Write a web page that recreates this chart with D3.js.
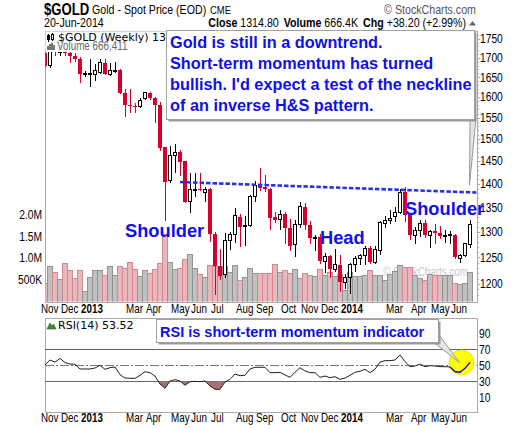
<!DOCTYPE html>
<html>
<head>
<meta charset="utf-8">
<script src="https://cdn.jsdelivr.net/npm/d3@7"></script>
<style>
body { margin: 0; background: #fff; }
svg { display: block; }
</style>
</head>
<body>
<div id="chart"></div>
<script>
// weekly bars, week ending Friday
const firstWeek = "2012-11-02"
const lastWeek = "2014-06-20"

const opens = [1713,1679,1731,1714,1751,1712,1704,1697,1657,1659,1658,1662,1687,1658,1667,1668,1611,1580,1578,1578,
  1596,1611,1597,1580,1481,1407,1463,1470,1450,1362,1387,1390,1382,1389,1296,1233,1217,1284,1295,1330,
  1311,1313,1374,1398,1393,1388,1330,1325,1337,1308,1275,1316,1352,1314,1288,1290,1243,1252,1228,1236,
  1203,1213,1237,1248,1254,1268,1241,1264,1318,1324,1331,1340,1382,1335,1294,1303,1318,1293,1302,1299,
  1292,1294,1294,1249,1253,1276]
const highs = [1722,1737,1740,1754,1755,1722,1712,1702,1666,1697,1684,1696,1697,1686,1688,1670,1620,1620,1585,1597,
  1614,1614,1600,1587,1481,1485,1488,1474,1450,1424,1423,1423,1394,1392,1300,1267,1298,1300,1348,1336,
  1333,1376,1406,1434,1420,1392,1340,1345,1340,1327,1324,1361,1359,1322,1294,1296,1258,1255,1267,1254,
  1218,1240,1253,1256,1272,1273,1272,1323,1332,1345,1352,1388,1394,1339,1310,1325,1325,1305,1316,1312,
  1305,1302,1297,1257,1279,1325]
const lows = [1673,1673,1705,1706,1705,1686,1690,1636,1650,1626,1641,1658,1655,1653,1660,1608,1553,1562,1561,1574,
  1593,1592,1538,1472,1322,1402,1423,1418,1359,1338,1373,1384,1362,1280,1180,1207,1211,1265,1278,1270,
  1272,1310,1362,1385,1382,1304,1318,1305,1277,1262,1251,1308,1305,1277,1262,1237,1221,1211,1222,1185,
  1190,1182,1223,1236,1235,1238,1237,1254,1308,1316,1321,1336,1321,1285,1277,1291,1288,1268,1277,1286,
  1278,1276,1247,1240,1251,1268]
const closes = [1679,1731,1714,1751,1712,1704,1697,1658,1659,1659,1666,1687,1658,1667,1668,1611,1580,1578,1577,1593,
  1611,1597,1580,1479,1405,1463,1469,1448,1361,1388,1389,1386,1389,1296,1233,1215,1284,1295,1333,1311,
  1313,1374,1397,1391,1388,1328,1325,1336,1308,1273,1316,1352,1315,1288,1290,1243,1252,1228,1236,1203,
  1213,1237,1248,1254,1268,1241,1265,1319,1324,1327,1340,1382,1335,1294,1303,1318,1294,1301,1299,1292,
  1294,1294.5,1250,1253,1276.6,1314.8]
// volume in thousands
const volumes = [430,820,680,520,880,710,540,710,250,560,710,710,610,820,610,820,770,910,750,580,
  710,650,750,870,1530,910,730,770,960,1090,770,620,560,840,800,780,800,680,840,480,
  560,770,660,650,660,640,860,680,710,650,750,540,650,610,580,730,600,670,580,630,
  260,680,580,580,600,710,600,610,500,620,690,840,790,790,600,540,480,620,610,610,
  610,610,430,390,430,666.411]
const rsi = [50.4,56.6,54,58.7,53.3,51.6,51.2,45.4,45.4,45.4,46.6,50,45,47,47.9,38.3,34.1,33.7,33.7,37.5,
  42,40.8,36.6,26.6,21.2,30.4,32,30.4,25,29.5,30,29.5,30.4,24.1,20,20,29.1,32.5,39.1,37,
  37.5,45.4,47.5,47.5,47.5,40.8,40.8,41.2,37.9,35,41.2,47,42.9,40.8,40.8,35,36.6,34.5,35.8,32.5,
  34.1,37.5,41.2,42.5,45,40.8,45,54.1,55.8,55.8,56.6,62.9,54.5,48.3,49.1,51.6,48.3,49.5,49.1,48.3,
  48.3,47.9,42,41.2,46.2,53.52]

const monthTicks = [["Nov","2012-11-02"],["Dec","2012-11-30"],["2013","2012-12-28"],["Mar","2013-03-01"],
  ["Apr","2013-03-29"],["May","2013-05-03"],["Jun","2013-05-31"],["Jul","2013-06-28"],["Aug","2013-08-02"],
  ["Sep","2013-08-30"],["Oct","2013-10-04"],["Nov","2013-11-01"],["Dec","2013-11-29"],["2014","2013-12-27"],
  ["Mar","2014-02-28"],["Apr","2014-04-04"],["May","2014-05-02"],["Jun","2014-05-30"]]
const priceTicks = [1200,1250,1300,1350,1400,1450,1500,1550,1600,1650,1700,1750]
const volumeTicks = [500,1000,1500,2000]
const volumeTickLabels = ["500K","1.0M","1.5M","2.0M"]
const rsiTicks = [10,30,50,70,90]
const rsiBands = [30,70]
const neckline = [["2013-05-10",1404],["2014-06-20",1382]]
const rsiHighlightFrom = "2014-05-23"

const noteLines = ["Gold is still in a downtrend.","Short-term momentum has turned",
  "bullish. I'd expect a test of the neckline","of an inverse H&S pattern."]
const rsiNote = "RSI is short-term momentum indicator"
const patternLabels = [["Shoulder","2013-02-22",1291],["Head","2013-11-22",1276],["Shoulder","2014-03-21",1335]]

const sans = "'Liberation Sans',Arial,sans-serif"
const squeeze = 0.82   // the chart's header and axis font is a narrow sans
const red = "#d3002d", blue = "#1010e8"

const parse = d3.utcParse("%Y-%m-%d")
const weeks = d3.utcFriday.range(parse(firstWeek), d3.utcDay.offset(parse(lastWeek), 1))
const bars = weeks.map((d, i) => ({
  date: d, open: opens[i], high: highs[i], low: lows[i], close: closes[i],
  volume: volumes[i], rsi: rsi[i], prev: i ? closes[i - 1] : opens[i]
}))

const main = { left: 45, right: 477, top: 31, bottom: 302 }
const lower = { top: 318, bottom: 412 }

const x = d3.scaleUtc().domain([weeks[0], weeks[weeks.length - 1]]).range([45, 470])
const y = d3.scaleLog().domain([1200, 1750]).range([284, 39])
const yv = d3.scaleLinear().domain([0, 2000]).range([302, 214.3])
const yr = d3.scaleLinear().domain([0, 100]).range([405.3, 325.3])

const svg = d3.select("#chart").append("svg").attr("width", 520).attr("height", 429)
  .style("font-family", sans)

const narrowAt = (px, py) => `translate(${px},${py}) scale(${squeeze},1)`
function ntext(px, py, str, size) {
  return svg.append("text").attr("transform", narrowAt(px, py)).attr("font-size", size).text(str)
}

// ---- header
ntext(44, 15, "$GOLD", 16).attr("font-weight", "bold")
ntext(92, 14, "Gold - Spot Price (EOD)", 13)
ntext(210, 14, "CME", 11.5)
ntext(476, 14, "\u00a9 StockCharts.com", 13).attr("text-anchor", "end").attr("fill", "#555")
ntext(44, 26.5, "20-Jun-2014", 13)

const last = bars[bars.length - 1]
const chg = last.close - last.prev
const quote = ntext(466, 26.5, null, 13).attr("text-anchor", "end")
quote.append("tspan").attr("font-weight", "bold").text("Close ")
quote.append("tspan").text(d3.format(".2f")(last.close))
quote.append("tspan").attr("dx", 6).attr("font-weight", "bold").text("Volume ")
quote.append("tspan").text(d3.format(".1f")(last.volume) + "K")
quote.append("tspan").attr("dx", 6).attr("font-weight", "bold").text("Chg ")
quote.append("tspan").text("+" + d3.format(".2f")(chg) + " (+" + d3.format(".2f")(chg / last.prev * 100) + "%)")
svg.append("path").attr("d", "M469,25.5L472.5,21L476,25.5Z").attr("fill", "#666")

// ---- main panel
svg.append("rect").attr("x", main.left).attr("y", main.top)
  .attr("width", main.right - main.left).attr("height", main.bottom - main.top)
  .attr("fill", "#fff").attr("stroke", "#aaa").attr("shape-rendering", "crispEdges")

svg.append("clipPath").attr("id", "clipMain").append("rect")
  .attr("x", main.left + 0.5).attr("y", main.top + 0.5)
  .attr("width", main.right - main.left - 1).attr("height", main.bottom - main.top - 1)

const plot = svg.append("g").attr("clip-path", "url(#clipMain)")

plot.append("text").attr("transform", narrowAt(468, 276)).attr("font-size", 12).attr("text-anchor", "end")
  .attr("fill", "#c8c8c8").text("\u00a9 StockCharts.com")

plot.append("g").selectAll("rect").data(bars).join("rect")
  .attr("x", d => Math.round(x(d.date)) - 2.5)
  .attr("width", 5)
  .attr("y", d => yv(d.volume))
  .attr("height", d => yv(0) - yv(d.volume))
  .attr("fill", d => d.close < d.prev ? "#e8b7bc" : "#c0c0c0")
  .attr("stroke", d => d.close < d.prev ? "#d5868f" : "#939393")
  .attr("stroke-width", 1)
  .attr("shape-rendering", "crispEdges")

const candle = plot.append("g").selectAll("g").data(bars).join("g")
  .attr("shape-rendering", "crispEdges")
candle.append("line")
  .attr("x1", d => Math.round(x(d.date)) + 0.5).attr("x2", d => Math.round(x(d.date)) + 0.5)
  .attr("y1", d => y(d.high)).attr("y2", d => y(d.low))
  .attr("stroke", d => d.close < d.prev ? red : "#000")
candle.append("rect")
  .attr("x", d => Math.round(x(d.date)) - 1.5)
  .attr("width", d => d.close < d.open ? 4 : 3)
  .attr("y", d => y(Math.max(d.open, d.close)))
  .attr("height", d => Math.max(1, Math.abs(y(d.open) - y(d.close))))
  .attr("fill", d => d.close < d.open ? (d.close < d.prev ? red : "#000") : "#fff")
  .attr("stroke", d => d.close < d.open ? "none" : (d.close < d.prev ? red : "#000"))
  .attr("transform", d => d.close < d.open ? "translate(-0.5,0)" : null)

// neckline, extended to the right edge
const n0 = [x(parse(neckline[0][0])), y(neckline[0][1])]
const n1 = [x(parse(neckline[1][0])), y(neckline[1][1])]
const slope = (n1[1] - n0[1]) / (n1[0] - n0[0])
plot.append("line")
  .attr("x1", n0[0]).attr("y1", n0[1])
  .attr("x2", main.right).attr("y2", n0[1] + slope * (main.right - n0[0]))
  .attr("stroke", "#2a30ea").attr("stroke-width", 2.6).attr("stroke-dasharray", "4.5,2")

// legend
svg.append("rect").attr("x", main.left + 0.5).attr("y", main.top + 0.5).attr("width", 122).attr("height", 20.5)
  .attr("fill", "#fff")
const icon = svg.append("g").attr("stroke", "#000").attr("shape-rendering", "crispEdges")
icon.append("line").attr("x1", 48.5).attr("x2", 48.5).attr("y1", 34).attr("y2", 42)
icon.append("rect").attr("x", 47.5).attr("y", 35.5).attr("width", 2).attr("height", 4).attr("fill", "#000")
icon.append("line").attr("x1", 52.5).attr("x2", 52.5).attr("y1", 33).attr("y2", 41)
icon.append("rect").attr("x", 51.5).attr("y", 34.5).attr("width", 2).attr("height", 5).attr("fill", "#fff")
svg.append("text").attr("x", 58).attr("y", 40.5).attr("font-size", 11).attr("font-family", "'DejaVu Sans',sans-serif")
  .text("$GOLD (Weekly) " + d3.format(".2f")(last.close))
const vicon = svg.append("g").attr("fill", "#777").attr("shape-rendering", "crispEdges")
;[[47, 46], [49, 44], [51, 43], [53, 45]].forEach(p => vicon.append("rect")
  .attr("x", p[0]).attr("y", p[1]).attr("width", 1.5).attr("height", 50 - p[1]))
ntext(57, 49.5, "Volume " + d3.format(",")(Math.round(last.volume * 1000)), 12).attr("fill", "#666")

// price axis
const pa = svg.append("g")
pa.selectAll("line").data(d3.range(1180, 1761, 10)).join("line")
  .attr("x1", main.right).attr("x2", d => main.right + (d % 50 ? 2 : 3))
  .attr("y1", d => Math.round(y(d)) + 0.5).attr("y2", d => Math.round(y(d)) + 0.5)
  .attr("stroke", "#aaa").attr("shape-rendering", "crispEdges")
pa.selectAll("text").data(priceTicks).join("text")
  .attr("transform", d => narrowAt(480, y(d) + 4.3)).attr("font-size", 12.5).text(d => d)

// volume axis
svg.append("g").selectAll("text").data(volumeTicks).join("text")
  .attr("transform", d => narrowAt(42, yv(d) + 4.3)).attr("font-size", 12.5).attr("text-anchor", "end")
  .text((d, i) => volumeTickLabels[i])

// pattern labels
svg.append("g").selectAll("text").data(patternLabels).join("text")
  .attr("x", d => x(parse(d[1]))).attr("y", d => y(d[2]))
  .attr("font-weight", "bold").attr("font-size", 18.3)
  .attr("fill", blue).text(d => d[0])

// ---- month labels (two rows)
function monthRow(yy) {
  svg.append("g").selectAll("text").data(monthTicks).join("text")
    .attr("transform", d => narrowAt(x(parse(d[1])) - 4, yy)).attr("font-size", 12)
    .attr("font-weight", d => /^\d/.test(d[0]) ? "bold" : null)
    .text(d => d[0])
}
monthRow(312.5)
monthRow(422)

// ---- RSI panel
svg.append("rect").attr("x", main.left).attr("y", lower.top)
  .attr("width", main.right - main.left).attr("height", lower.bottom - lower.top)
  .attr("fill", "#fff").attr("stroke", "#aaa").attr("shape-rendering", "crispEdges")

svg.append("g").selectAll("line").data(rsiBands).join("line")
  .attr("x1", main.left).attr("x2", main.right)
  .attr("y1", d => Math.round(yr(d)) + 0.5).attr("y2", d => Math.round(yr(d)) + 0.5)
  .attr("stroke", "#666").attr("shape-rendering", "crispEdges")
svg.append("line").attr("x1", main.left).attr("x2", main.right)
  .attr("y1", Math.round(yr(50)) + 0.5).attr("y2", Math.round(yr(50)) + 0.5)
  .attr("stroke", "#777").attr("stroke-dasharray", "9,2,2,2").attr("shape-rendering", "crispEdges")

svg.append("clipPath").attr("id", "clipLow").append("rect")
  .attr("x", main.left).attr("y", yr(30)).attr("width", main.right - main.left).attr("height", lower.bottom - yr(30))
svg.append("path").datum(bars).attr("clip-path", "url(#clipLow)")
  .attr("d", d3.area().x(d => x(d.date)).y0(yr(30)).y1(d => yr(d.rsi)))
  .attr("fill", "#a77272")

svg.append("circle").attr("cx", 461.5).attr("cy", 362.5).attr("r", 12.5)
  .attr("fill", "#ffff00").attr("stroke", "#e8e800")

const rsiLine = d3.line().x(d => x(d.date)).y(d => yr(d.rsi))
svg.append("path").datum(bars).attr("d", rsiLine).attr("fill", "none").attr("stroke", "#222").attr("stroke-width", 1)
svg.append("path").datum(bars.filter(d => d.date >= parse(rsiHighlightFrom))).attr("d", rsiLine)
  .attr("fill", "none").attr("stroke", blue).attr("stroke-width", 1.3)

svg.append("g").selectAll("text").data(rsiTicks).join("text")
  .attr("transform", d => narrowAt(479, yr(d) + 4.3)).attr("font-size", 12.5).text(d => d)

svg.append("path").attr("d", "M47,329L50,323L52,326L53.5,324L56,329Z").attr("fill", "#3c8a3c").attr("stroke", "#1f5f1f")
  .attr("stroke-width", 0.6)
svg.append("text").attr("x", 58).attr("y", 328.5).attr("font-size", 11).attr("font-family", "'DejaVu Sans',sans-serif")
  .text("RSI(14) " + d3.format(".2f")(last.rsi))

// ---- callout boxes
function callout(box, pointer, lines, size, lead) {
  const g = svg.append("g")
  g.append("polygon").attr("points", pointer.map(p => p.join(",")).join(" "))
    .attr("fill", "#e4e4e4").attr("stroke", "#999")
  g.append("rect").attr("x", box[0] + 2).attr("y", box[1] + 2).attr("width", box[2]).attr("height", box[3])
    .attr("fill", "#9a9a9a")
  g.append("rect").attr("x", box[0]).attr("y", box[1]).attr("width", box[2]).attr("height", box[3])
    .attr("fill", "#fff").attr("stroke", "#a0a0a0").attr("shape-rendering", "crispEdges")
  g.selectAll("text").data(lines).join("text")
    .attr("x", box[0] + 3.5).attr("y", (d, i) => box[1] + lead[0] + i * lead[1])
    .attr("font-weight", "bold").attr("font-size", size)
    .attr("fill", blue).text(d => d)
}
callout([166.5, 30.5, 308, 89], [[470, 118], [476, 118], [469.5, 185]], noteLines, 16.3, [17.8, 20.9])
callout([156.5, 319.5, 282, 23], [[432, 341], [437.5, 333], [459.5, 362.5]], [rsiNote], 14.5, [17, 0])
</script>
</body>
</html>
